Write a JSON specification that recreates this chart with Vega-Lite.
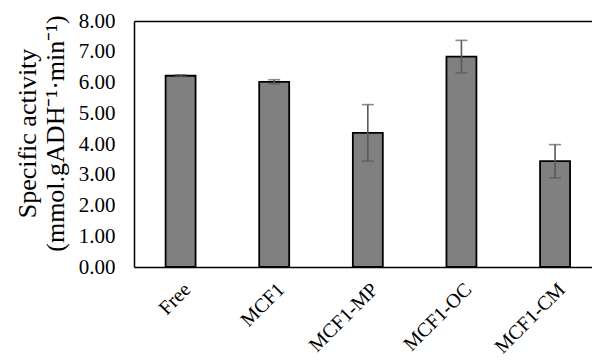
{
  "$schema": "https://vega.github.io/schema/vega-lite/v6.json",
  "width": 458,
  "height": 246,
  "autosize": "none",
  "padding": {"left": 134, "top": 21, "right": 0, "bottom": 93},
  "background": "white",
  "config": {
    "view": {"stroke": null},
    "font": "Liberation Serif"
  },
  "data": {
    "values": [
      {"sample": "Free", "activity": 6.22, "err": 0.03},
      {"sample": "MCF1", "activity": 6.02, "err": 0.07},
      {"sample": "MCF1-MP", "activity": 4.36, "err": 0.92},
      {"sample": "MCF1-OC", "activity": 6.84, "err": 0.53},
      {"sample": "MCF1-CM", "activity": 3.44, "err": 0.54}
    ]
  },
  "encoding": {
    "x": {
      "field": "sample",
      "type": "nominal",
      "sort": null,
      "scale": {"paddingInner": 0.68, "paddingOuter": 0.286, "align": 0.59}
    },
    "y": {
      "field": "activity",
      "type": "quantitative",
      "scale": {"domain": [0, 8], "nice": false},
      "axis": {
        "values": [0, 1, 2, 3, 4, 5, 6, 7, 8],
        "format": ".2f",
        "grid": false,
        "ticks": false,
        "domain": true,
        "domainColor": "black",
        "domainWidth": 1.5,
        "labelFontSize": 21,
        "labelColor": "black",
        "labelPadding": 19,
        "labelOverlap": false,
        "title": ["Specific activity", "(mmol.gADH⁻¹·min⁻¹)"],
        "titleFontSize": 26,
        "titleFontWeight": "normal",
        "titleColor": "black",
        "titlePadding": 10,
        "titleY": 112
      }
    }
  },
  "layer": [
    {
      "mark": {"type": "bar", "fill": "#808080", "stroke": "black", "strokeWidth": 1.8},
      "encoding": {
        "x": {
          "field": "sample",
          "type": "nominal",
          "sort": null,
          "axis": {
            "title": null,
            "orient": "bottom",
            "domain": true,
            "domainColor": "black",
            "domainWidth": 1.5,
            "ticks": false,
            "labelAngle": -45,
            "labelFontSize": 20,
            "labelColor": "black",
            "labelPadding": 12,
            "labelOverlap": false
          }
        }
      }
    },
    {
      "mark": {
        "type": "errorbar",
        "ticks": {"size": 12, "thickness": 1.6, "color": "#595959"},
        "rule": {"strokeWidth": 1.6, "color": "#595959"}
      },
      "encoding": {
        "x": {
          "field": "sample",
          "type": "nominal",
          "sort": null,
          "axis": {
            "orient": "top",
            "title": null,
            "labels": false,
            "ticks": false,
            "domain": true,
            "domainColor": "black",
            "domainWidth": 1.5
          }
        },
        "yError": {"field": "err"}
      }
    }
  ],
  "resolve": {"axis": {"x": "independent"}}
}
